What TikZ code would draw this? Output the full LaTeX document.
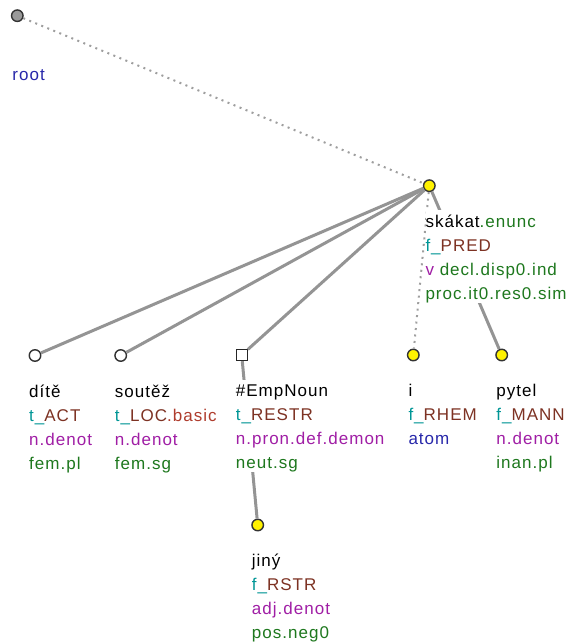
\documentclass[tikz,border=0pt]{standalone}
\usepackage{fontspec}
\setmainfont{Liberation Sans}[LetterSpace=6]
\definecolor{fprefix}{RGB}{0,150,150}
\definecolor{ffunc}{RGB}{125,50,35}
\definecolor{fsub}{RGB}{175,60,45}
\definecolor{gram}{RGB}{160,30,165}
\definecolor{morph}{RGB}{30,120,30}
\definecolor{atomc}{RGB}{40,40,170}

\begin{document}
\begin{tikzpicture}[x=1pt, y=-1pt,
  tnode/.style={circle, draw=black!80, line width=1.4pt, fill=white, minimum size=11.5pt, inner sep=0pt},
  ynode/.style={tnode, fill=yellow},
  rnode/.style={tnode, fill=black!40},
  snode/.style={rectangle, draw=black!85, line width=1.3pt, fill=white, minimum size=11pt, inner sep=0pt},
  edge/.style={draw=black!42, line width=3pt},
  dotedge/.style={draw=black!38, line width=2pt, dash pattern=on 2pt off 4.5pt},
  lbl/.style={anchor=north west, inner sep=0pt, fill=white, align=left, font=\fontsize{17}{24}\selectfont}]
\useasboundingbox (0,0) rectangle (571,644);

\node [rnode] (root) at (17.3,15.7) {};
\node [ynode] (pred) at (429.3,185.7) {};
\node [tnode] (dite) at (35,355.5) {};
\node [tnode] (soutez) at (120.7,355.5) {};
\node [snode] (empnoun) at (241.7,355) {};
\node [ynode] (conj) at (413.3,355) {};
\node [ynode] (pytel) at (501.7,355) {};
\node [ynode] (jiny) at (257.7,525) {};

\draw [dotedge] (root) -- (pred);
\draw [dotedge] (pred) -- (conj);
\draw [edge] (pred) -- (dite);
\draw [edge] (pred) -- (soutez);
\draw [edge] (pred) -- (empnoun);
\draw [edge] (pred) -- (pytel);
\draw [edge] (empnoun) -- (jiny);

\node [lbl] (root-l) at ([xshift=-5pt,yshift=-47.5pt]root.center)
  {\strut\textcolor{atomc}{root}};
\node [lbl] (pred-l) at ([xshift=-4pt,yshift=-24.5pt]pred.center)
  {\strut skákat\textcolor{morph}{.enunc}\\
   \textcolor{fprefix}{f\textunderscore}\textcolor{ffunc}{PRED}\\
   \textcolor{gram}{v} \textcolor{morph}{decl.disp0.ind}\\
   \textcolor{morph}{proc.it0.res0.sim}};
\node [lbl] (dite-l) at ([xshift=-6pt,yshift=-24.5pt]dite.center)
  {\strut dítě\\
   \textcolor{fprefix}{t\textunderscore}\textcolor{ffunc}{ACT}\\
   \textcolor{gram}{n.denot}\\
   \textcolor{morph}{fem.pl}};
\node [lbl] (soutez-l) at ([xshift=-6pt,yshift=-24.5pt]soutez.center)
  {\strut soutěž\\
   \textcolor{fprefix}{t\textunderscore}\textcolor{ffunc}{LOC}\textcolor{fsub}{.basic}\\
   \textcolor{gram}{n.denot}\\
   \textcolor{morph}{fem.sg}};
\node [lbl] (empnoun-l) at ([xshift=-6pt,yshift=-24.5pt]empnoun.center)
  {\strut\#EmpNoun\\
   \textcolor{fprefix}{t\textunderscore}\textcolor{ffunc}{RESTR}\\
   \textcolor{gram}{n.pron.def.demon}\\
   \textcolor{morph}{neut.sg}};
\node [lbl] (conj-l) at ([xshift=-5pt,yshift=-24.5pt]conj.center)
  {\strut i\\
   \textcolor{fprefix}{f\textunderscore}\textcolor{ffunc}{RHEM}\\
   \textcolor{atomc}{atom}};
\node [lbl] (pytel-l) at ([xshift=-5.5pt,yshift=-24.5pt]pytel.center)
  {\strut pytel\\
   \textcolor{fprefix}{f\textunderscore}\textcolor{ffunc}{MANN}\\
   \textcolor{gram}{n.denot}\\
   \textcolor{morph}{inan.pl}};
\node [lbl] (jiny-l) at ([xshift=-6pt,yshift=-24.5pt]jiny.center)
  {\strut jiný\\
   \textcolor{fprefix}{f\textunderscore}\textcolor{ffunc}{RSTR}\\
   \textcolor{gram}{adj.denot}\\
   \textcolor{morph}{pos.neg0}};
\end{tikzpicture}
\end{document}
